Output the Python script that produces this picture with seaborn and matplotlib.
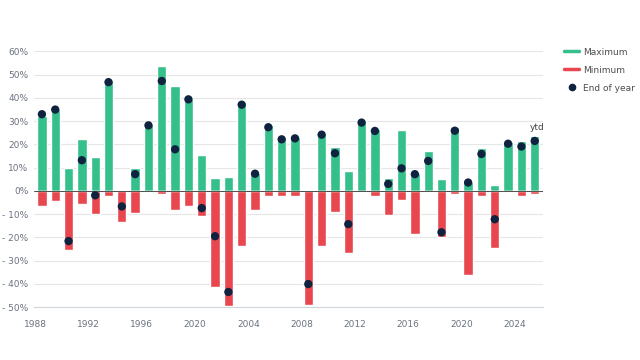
import matplotlib
matplotlib.use("Agg")
import matplotlib.pyplot as plt
from matplotlib.lines import Line2D
import seaborn as sns

# yearly returns in %
years = list(range(1988, 2026))
maximum = [32.2, 35.2, 9.9, 22.5, 14.8, 47.7, 0.0, 9.9, 29.0, 53.7,
           45.1, 39.4, 15.5, 5.7, 6.0, 38.4, 7.6, 28.4, 23.4, 23.4,
           0.0, 25.0, 18.9, 8.7, 30.5, 26.5, 5.7, 26.2, 7.6, 17.3,
           5.0, 27.4, 4.0, 18.3, 2.4, 21.2, 21.6, 23.6]
minimum = [-6.7, -4.2, -25.5, -5.6, -9.9, -2.0, -13.5, -9.3, 0.0, -1.3,
           -8.3, -6.3, -11.0, -41.4, -49.7, -23.9, -8.2, -2.1, -2.4, -2.4,
           -49.0, -23.9, -8.9, -26.8, 0.0, -2.1, -10.3, -3.9, -18.5, 0.0,
           -19.9, -1.4, -36.2, -2.1, -24.6, 0.0, -2.1, -1.4]
end_of_year = [33.0, 35.0, -21.6, 13.2, -1.9, 46.8, -6.7, 7.2, 28.2, 47.3,
               17.9, 39.4, -7.4, -19.5, -43.5, 37.1, 7.4, 27.4, 22.2, 22.6,
               -40.1, 24.2, 16.2, -14.3, 29.4, 25.8, 3.0, 9.7, 7.2, 12.9,
               -17.8, 25.9, 3.6, 15.9, -12.2, 20.3, 19.1, 21.5]
tick_years = [1988, 1992, 1996, 2000, 2004, 2008, 2012, 2016, 2020, 2024]
tick_labels = ["1988", "1992", "1996", "2020", "2004", "2008", "2012", "2016", "2020", "2024"]
y_ticks = [60, 50, 40, 30, 20, 10, 0, -10, -20, -30, -40, -50]

green = "#35bf8b"
red = "#e8474f"
navy = "#0f2340"
text_grey = "#6b7280"

sns.set_style("white")
plt.rcParams["font.family"] = ["DejaVu Sans"]

fig = plt.figure(figsize=(6.4, 3.6), dpi=100)
ax = fig.add_axes([0.053, 0.147, 0.795, 0.71])

# bars sit at mid-year, ticks at the start of the year
mid = [y + 0.5 for y in years]

sns.barplot(x=mid, y=maximum, native_scale=True, color=green, width=0.7,
            saturation=1, ax=ax, zorder=2)
sns.barplot(x=mid, y=minimum, native_scale=True, color=red, width=0.7,
            saturation=1, ax=ax, zorder=2)
sns.scatterplot(x=mid, y=end_of_year, color=navy, s=36, edgecolor="none",
                ax=ax, zorder=4)

ax.axhline(0, color="#333333", lw=0.6, zorder=3)
ax.text(mid[-1] + 0.2, 27.2, "ytd", color="#444444", fontsize=6.5,
        ha="center", va="center")

ax.set_xlim(1987.9, 2026.1)
ax.set_ylim(-50, 60)
ax.set_xticks(tick_years)
ax.set_xticklabels(tick_labels)
ax.set_yticks(y_ticks)
ax.set_yticklabels([f"{v}%" if v >= 0 else f"- {abs(v)}%" for v in y_ticks])

ax.grid(axis="y", color="#e6e6e6", lw=0.8, zorder=0)
ax.set_axisbelow(True)
for side in ["top", "right", "left"]:
    ax.spines[side].set_visible(False)
ax.spines["bottom"].set_color("#cfd6dc")
ax.spines["bottom"].set_linewidth(0.8)
ax.tick_params(axis="x", length=6, width=0.8, color="#cfd6dc",
               labelsize=6.5, labelcolor=text_grey, pad=3)
ax.tick_params(axis="y", length=0, labelsize=6.5, labelcolor=text_grey, pad=4)
ax.set_xlabel("")
ax.set_ylabel("")

handles = [
    Line2D([0], [0], color=green, lw=2.5),
    Line2D([0], [0], color=red, lw=2.5),
    Line2D([0], [0], color=navy, marker="o", lw=0, markersize=4.5),
]
fig.legend(handles, ["Maximum", "Minimum", "End of year"],
           loc="upper left", bbox_to_anchor=(0.882, 0.868), frameon=False,
           fontsize=6.5, labelcolor="#4d4d4d", handlelength=1.6,
           handletextpad=0.5, labelspacing=1.0, borderpad=0, borderaxespad=0)

fig.savefig("out.png", dpi=100)
